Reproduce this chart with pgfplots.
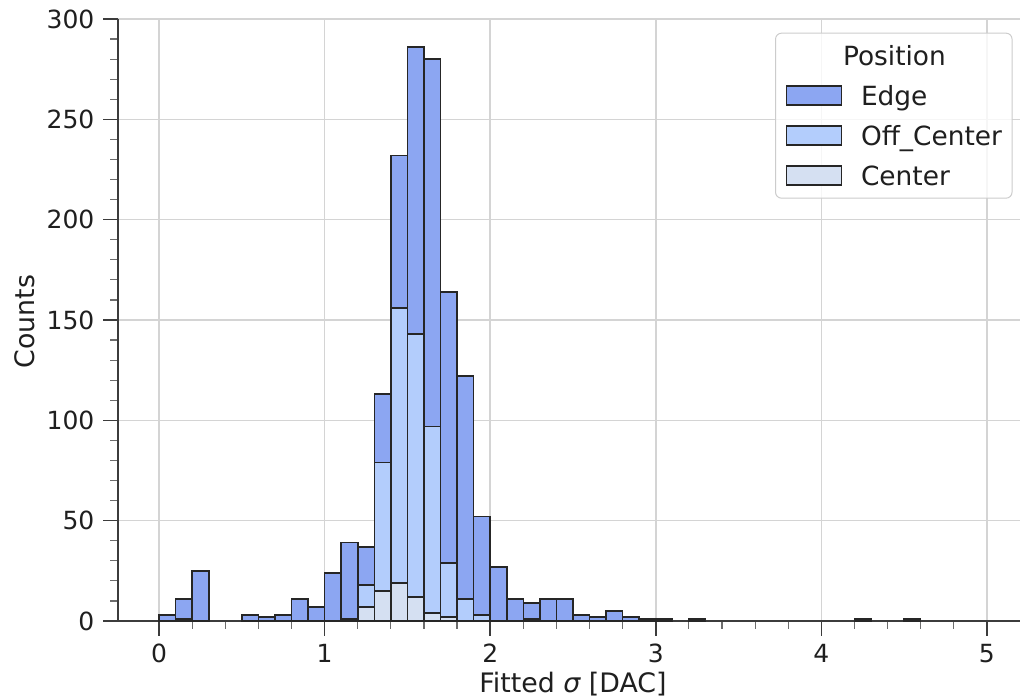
\documentclass[border=0pt]{standalone}
\usepackage{fontspec}
\setmainfont{DejaVu Sans}
\usepackage{pgfplots}
\pgfplotsset{compat=1.18}
\usepackage{pgfplotstable}

\definecolor{edgecol}{HTML}{8CA6F2}
\definecolor{offcol}{HTML}{B3CDFC}
\definecolor{centcol}{HTML}{D5E0F2}
\definecolor{spine}{HTML}{3C3C3C}
\definecolor{gridc}{HTML}{D4D4D4}

% counts per 0.1-wide bin of the fitted sigma, split by pixel position
\pgfplotstableread{
x    edge off center
0.05   3    0   0
0.15  10    1   0
0.25  25    0   0
0.55   3    0   0
0.65   2    0   0
0.75   3    0   0
0.85  11    0   0
0.95   7    0   0
1.05  24    0   0
1.15  38    1   0
1.25  19   11   7
1.35  34   64  15
1.45  76  137  19
1.55 143  131  12
1.65 183   93   4
1.75 135   27   2
1.85 111   11   0
1.95  49    3   0
2.05  27    0   0
2.15  11    0   0
2.25   8    1   0
2.35  11    0   0
2.45  11    0   0
2.55   3    0   0
2.65   2    0   0
2.75   5    0   0
2.85   2    0   0
2.95   1    0   0
3.05   1    0   0
3.25   1    0   0
4.25   1    0   0
4.55   1    0   0
}\sigmadata

\pgfplotsset{
  histbar/.style={ybar, bar width=0.1, bar shift=0pt, draw=black!85, line width=0.75pt},
}

\begin{document}
\fontsize{12.5}{15}\selectfont
\begin{tikzpicture}
\begin{axis}[
  scale only axis,
  width=451.15pt, height=301pt,
  xmin=-0.25, xmax=5.2, ymin=0, ymax=300,
  axis x line*=bottom, axis y line*=left,
  axis line style={spine, line width=0.9pt},
  xtick={0,1,2,3,4,5}, ytick={0,50,100,150,200,250,300},
  minor x tick num=4, minor y tick num=4,
  tick align=outside,
  major tick length=7.3pt, minor tick length=3.8pt,
  every major tick/.style={spine, line width=0.8pt},
  every minor tick/.style={spine!75, line width=0.6pt},
  grid=major,
  major grid style={gridc, line width=0.75pt},
  /pgf/number format/assume math mode=true,
  tick label style={black!88},
  clip=false,
  xlabel={Fitted {\itshape σ} [DAC]},
  ylabel={Counts},
  label style={font=\fontsize{13.4}{16}\selectfont, black!88},
  xlabel style={at={(axis description cs:0.5046,-0.1047)}, anchor=center},
  ylabel style={at={(axis description cs:-0.1027,0.497)}, anchor=center},
  legend image code/.code={\draw[#1, sharp corners, fill opacity=1, draw opacity=1] (0pt,-4.75pt) rectangle (27.5pt,4.75pt);},
  legend style={
    at={(axis description cs:0.7285,0.9773)}, anchor=north west,
    draw=black!20, line width=0.5pt, fill=white, fill opacity=0.8,
    draw opacity=1, text opacity=1, rounded corners=3pt,
    inner xsep=5pt, inner ysep=5.8pt,
    row sep=9.1pt, column sep=9.5pt,
    cells={anchor=west},
    font=\fontsize{13.2}{16}\selectfont,
    nodes={inner sep=0pt, text height=10.2pt, text depth=0.7pt, text=black!88},
  },
]
\addlegendimage{empty legend}
\addlegendentry{\hspace*{-9pt}Position}

% the stack is drawn from its full height down, each layer over the last
\addplot[histbar, fill=edgecol]
  table[x=x, y expr=\thisrow{edge}+\thisrow{off}+\thisrow{center}] {\sigmadata};
\addlegendentry{Edge}
\addplot[histbar, fill=offcol]
  table[x=x, y expr=\thisrow{off}+\thisrow{center}] {\sigmadata};
\addlegendentry{Off\_Center}
\addplot[histbar, fill=centcol]
  table[x=x, y=center] {\sigmadata};
\addlegendentry{Center}
\end{axis}
\pgfresetboundingbox
\path[use as bounding box]
  ([shift={(-58.85pt,-38pt)}]current axis.south west)
  rectangle ([shift={(0pt,9.5pt)}]current axis.north east);
\end{tikzpicture}
\end{document}
